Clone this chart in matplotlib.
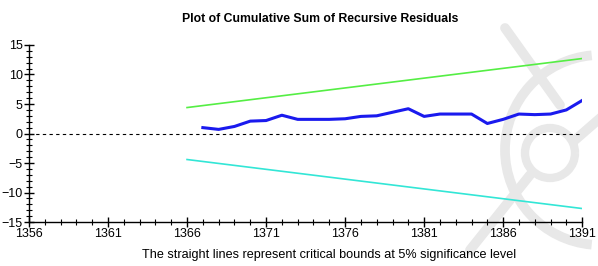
import matplotlib
matplotlib.use("Agg")
import matplotlib.pyplot as plt
from matplotlib.ticker import MultipleLocator, FixedLocator
from matplotlib.patches import Arc

plt.rcParams['font.family'] = ['Liberation Sans', 'DejaVu Sans']

years = list(range(1367, 1392))
cusum = [1.0, 0.7, 1.2, 2.1, 2.2, 3.1, 2.4, 2.4, 2.4, 2.5, 2.9, 3.0, 3.6, 4.2,
         2.9, 3.3, 3.3, 3.3, 1.7, 2.4, 3.3, 3.2, 3.3, 4.0, 5.6]
bound_years = [1366, 1391]
upper = [4.4, 12.7]
lower = [-4.4, -12.7]
xticks = [1356, 1361, 1366, 1371, 1376, 1381, 1386, 1391]

fig = plt.figure(figsize=(5.98, 2.66), dpi=100)

# faint watermark background (decorative)
bg = fig.add_axes([0, 0, 1, 1], zorder=0)
bg.set_xlim(0, 598)
bg.set_ylim(266, 0)
bg.axis('off')
wm = '#e8e8e8'
bg.add_patch(Arc((600, 150), 190, 190, theta1=95, theta2=265, color=wm, lw=7))
bg.add_patch(Arc((550, 153), 50, 50, color=wm, lw=6))
bg.plot([505, 560], [28, 105], color=wm, lw=7, solid_capstyle='round')
bg.plot([470, 530], [250, 175], color=wm, lw=7, solid_capstyle='round')
bg.plot([575, 598], [140, 120], color=wm, lw=7)

ax = fig.add_axes([0.0485, 0.165, 0.925, 0.666], zorder=1)
ax.patch.set_alpha(0)

ax.plot([1356, 1391], [0, 0], color='black', lw=0.8, ls=(0, (3, 3)))
ax.plot(bound_years, upper, color='#55ee44', lw=1.2)
ax.plot(bound_years, lower, color='#33e6d6', lw=1.2)
ax.plot(years, cusum, color='#1a1aee', lw=2.2)

ax.set_xlim(1356, 1391)
ax.set_ylim(-15, 15)
ax.xaxis.set_major_locator(FixedLocator(xticks))
ax.xaxis.set_minor_locator(MultipleLocator(1))
ax.yaxis.set_major_locator(MultipleLocator(5))
ax.yaxis.set_minor_locator(MultipleLocator(1))
ax.tick_params(which='major', direction='inout', length=7, width=1, labelsize=9, pad=1)
ax.tick_params(which='minor', direction='inout', length=4, width=0.8)
for s in ['top', 'right']:
    ax.spines[s].set_visible(False)
for s in ['left', 'bottom']:
    ax.spines[s].set_linewidth(1.0)

fig.text(0.535, 0.93, 'Plot of Cumulative Sum of Recursive Residuals', fontsize=8.8,
         fontweight='bold', ha='center', va='center')
fig.text(0.551, 0.02, 'The straight lines represent critical bounds at 5% significance level',
         ha='center', va='bottom', fontsize=9.1)

fig.savefig('out.png', dpi=100)
